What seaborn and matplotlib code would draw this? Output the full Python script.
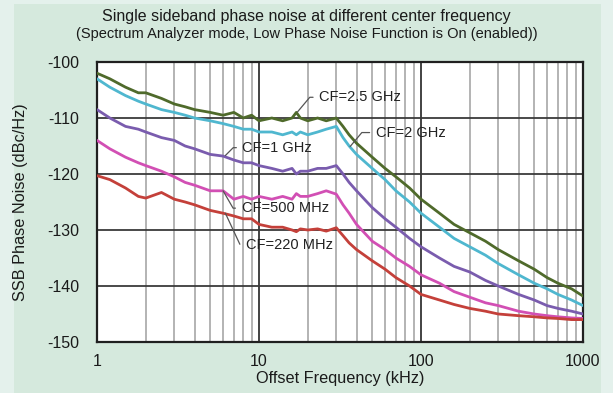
import numpy as np
import pandas as pd
import matplotlib
matplotlib.use("Agg")
import matplotlib.pyplot as plt
import seaborn as sns

# ---------------------------------------------------------
# Data (offset frequency in kHz, SSB noise in dBc/Hz)
# ---------------------------------------------------------
freq_khz = [1, 1.2, 1.5, 1.8, 2, 2.5, 3, 3.5, 4, 5, 6, 7, 8, 9, 10, 12, 14, 16, 17, 18,
            20, 23, 26, 30, 33, 36, 40, 50, 60, 70, 85, 100, 130, 160, 200, 250, 300,
            400, 500, 600, 700, 850, 1000]

cf_2500 = [-102, -103, -104.5, -105.5, -105.5, -106.5, -107.5, -108, -108.5, -109, -109.5,
           -109, -110, -109.5, -110.5, -110, -110.5, -110, -109, -110, -110.5, -110, -110.5,
           -110, -111.5, -113, -114.5, -117, -119, -120.5, -122.5, -124.5, -127, -129,
           -130.5, -132, -133.5, -135.5, -137, -138.5, -139.5, -140.5, -141.8]
cf_2000 = [-103, -104.5, -106, -107, -107.5, -108.5, -109, -109.5, -110, -110.5, -111,
           -111.5, -112, -112, -112.5, -112.5, -113, -112.5, -113, -112.5, -113, -112.5,
           -112, -111.5, -113.5, -115, -116.5, -119, -121, -123, -125, -127, -129.5, -131.5,
           -133, -134.5, -136, -138, -139.5, -140.5, -141.5, -142.5, -143.5]
cf_1000 = [-108.5, -110, -111.5, -112, -112.5, -113.5, -114, -115, -115.5, -116.5, -116.8,
           -117.5, -118, -118, -118.5, -119, -119.5, -119, -120, -119.5, -119.5, -119,
           -119, -118.5, -120, -121.5, -123, -126, -128, -129.5, -131.5, -133, -135,
           -136.5, -137.5, -139, -140, -141.5, -142.5, -143.5, -144, -144.5, -145]
cf_500 = [-114, -115.5, -117, -118, -118.5, -119.5, -120.5, -121.5, -122, -123, -123,
          -124.5, -124, -124.5, -124, -124.5, -124, -124.5, -123.5, -124, -124, -123.5,
          -123, -123.6, -125.5, -127, -129, -132, -133.5, -135, -136.5, -138, -139.5,
          -141, -142, -143, -143.5, -144.5, -145, -145.3, -145.5, -145.7, -145.8]
cf_220 = [-120.3, -121, -122.5, -124, -124.3, -123.3, -124.5, -125, -125.5, -126.5, -127,
          -127.5, -128, -128, -129, -129.5, -129.5, -130, -130.3, -129.8, -130, -129.8,
          -130.2, -129.6, -131, -132.3, -133.5, -135.5, -137, -138.5, -140, -141.5,
          -142.5, -143.3, -144, -144.5, -145, -145.3, -145.5, -145.7, -145.8, -146, -146]

series_names = ["CF=2.5 GHz", "CF=2 GHz", "CF=1 GHz", "CF=500 MHz", "CF=220 MHz"]
series_vals = [cf_2500, cf_2000, cf_1000, cf_500, cf_220]
series_colors = ["#4f6a2b", "#4fb7cf", "#7a5cae", "#d24fb4", "#c4403a"]

x_ticks = [1, 10, 100, 1000]
x_tick_labels = ["1", "10", "100", "1000"]
y_ticks = [-150, -140, -130, -120, -110, -100]

# (label, point on curve, text position, leader angle at the curve)
labels = [
    ("CF=2.5 GHz", (17.3, -108.9), (23.5, -106.3), 50),
    ("CF=2 GHz", (36.5, -115.1), (52.5, -112.6), 50),
    ("CF=1 GHz", (6.2, -116.7), (7.9, -115.3), 45),
    ("CF=500 MHz", (6.0, -123.0), (7.8, -126.1), -60),
    ("CF=220 MHz", (6.2, -127.0), (8.3, -132.6), -65),
]

df = pd.DataFrame({
    "freq": np.tile(freq_khz, len(series_names)),
    "noise": np.concatenate(series_vals),
    "series": np.repeat(series_names, len(freq_khz)),
})

# ---------------------------------------------------------
# Figure
# ---------------------------------------------------------
sns.set_theme(style="white")
plt.rcParams["font.family"] = ["Liberation Sans", "DejaVu Sans"]
plt.rcParams["axes.unicode_minus"] = False

fig = plt.figure(figsize=(6.13, 3.93), dpi=100, facecolor="#e4f1ec")
fig.patches.append(plt.Rectangle((14 / 613, 0), (601 - 14) / 613, 1 - 4 / 393,
                                 transform=fig.transFigure, facecolor="#d5e9dd",
                                 edgecolor="none", zorder=-10))
ax = fig.add_axes([97 / 613, 1 - 342 / 393, (583 - 97) / 613, (342 - 62) / 393])
ax.set_facecolor("white")

sns.lineplot(data=df, x="freq", y="noise", hue="series", hue_order=series_names,
             palette=dict(zip(series_names, series_colors)), linewidth=2.0,
             legend=False, ax=ax, zorder=3)

ax.set_xscale("log")
ax.set_xlim(1, 1000)
ax.set_ylim(-150, -100)
ax.set_xticks(x_ticks)
ax.set_xticklabels(x_tick_labels)
ax.set_yticks(y_ticks)
ax.xaxis.set_minor_locator(matplotlib.ticker.LogLocator(base=10, subs=np.arange(2, 10)))
ax.xaxis.set_minor_formatter(matplotlib.ticker.NullFormatter())
ax.tick_params(axis="both", which="both", length=0, labelsize=11.5, colors="#1a1a1a")
ax.tick_params(axis="x", pad=9)
ax.tick_params(axis="y", pad=13)

ax.grid(True, which="minor", axis="x", color="#b3b3b3", linewidth=1.4, zorder=1)
ax.grid(True, which="major", axis="x", color="#222222", linewidth=1.2, zorder=1)
ax.grid(True, which="major", axis="y", color="#3a3a3a", linewidth=1.3, zorder=1)
for sp in ax.spines.values():
    sp.set_color("#202020")
    sp.set_linewidth(1.6)

ax.set_xlabel("Offset Frequency (kHz)", fontsize=11.7, color="#1a1a1a", labelpad=1)
ax.set_ylabel("SSB Phase Noise (dBc/Hz)", fontsize=11.7, color="#1a1a1a")
ax.yaxis.set_label_coords(-0.142, 0.5)

for text, pt, txt, ang in labels:
    ax.annotate(text, xy=pt, xytext=txt, fontsize=10.5, color="#222222",
                ha="left", va="center", zorder=5,
                arrowprops=dict(arrowstyle="-", color="#555555", lw=0.9,
                                shrinkA=2, shrinkB=0, relpos=(0, 0.5),
                                connectionstyle=f"angle,angleA=0,angleB={ang},rad=0"))

fig.text(0.5, 1 - 17 / 393, "Single sideband phase noise at different center frequency",
         ha="center", va="center", fontsize=11.5, color="#1a1a1a")
fig.text(0.5, 1 - 34 / 393,
         "(Spectrum Analyzer mode, Low Phase Noise Function is On (enabled))",
         ha="center", va="center", fontsize=10.5, color="#1a1a1a")

fig.savefig("out.png", dpi=100, facecolor=fig.get_facecolor())
